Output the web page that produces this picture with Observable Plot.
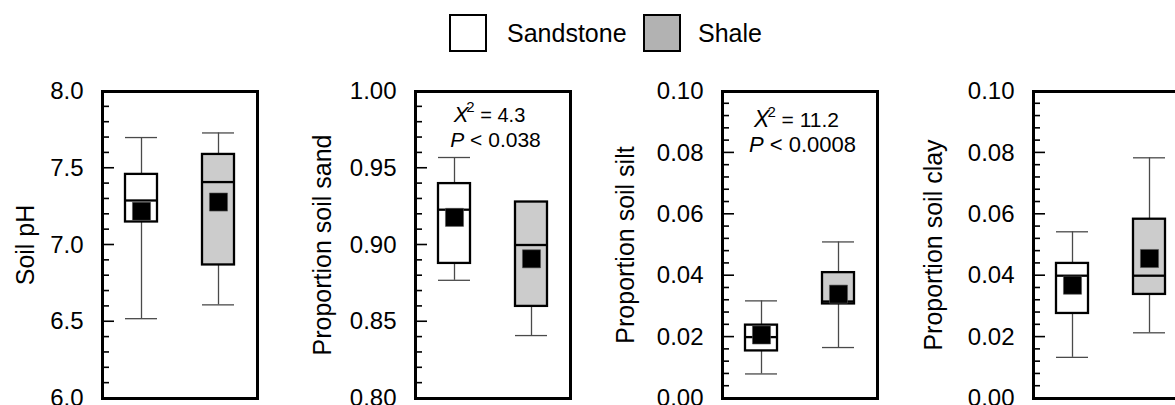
<!DOCTYPE html>
<html>
<head>
<meta charset="utf-8">
<script src="https://cdn.jsdelivr.net/npm/d3@7"></script>
<script src="https://cdn.jsdelivr.net/npm/@observablehq/plot@0.6"></script>
<style>
  html, body { margin: 0; padding: 0; background: #fff; }
  #wrap { position: relative; width: 1175px; height: 405px; overflow: hidden; font-family: "Liberation Sans", Arial, Helvetica, sans-serif; color: #000; }
  .panel { position: absolute; top: 75px; }
  .lg-box { position: absolute; top: 14px; width: 38px; height: 38px; box-sizing: border-box; border: 2.5px solid #000; }
  .lg-text { position: absolute; top: 18px; font-size: 25px; line-height: 30px; }
</style>
</head>
<body>
<div id="wrap"></div>
<script>
const FONT = '"Liberation Sans", Arial, Helvetica, sans-serif';

// ---- Data ----
const groups = ["Sandstone", "Shale"];
const boxFill = ["#ffffff", "#cccccc"];
const legendFill = ["#ffffff", "#b2b2b2"];

// Soil pH
const phLo   = [6.52, 6.61];
const phQ1   = [7.15, 6.87];
const phMed  = [7.29, 7.41];
const phQ3   = [7.46, 7.59];
const phHi   = [7.70, 7.73];
const phMean = [7.22, 7.28];

// Proportion soil sand
const sandLo   = [0.877, 0.841];
const sandQ1   = [0.888, 0.860];
const sandMed  = [0.923, 0.900];
const sandQ3   = [0.940, 0.928];
const sandHi   = [0.957, 0.928];
const sandMean = [0.918, 0.891];

// Proportion soil silt
const siltLo   = [0.0080, 0.0166];
const siltQ1   = [0.0155, 0.0308];
const siltMed  = [0.0200, 0.0316];
const siltQ3   = [0.0239, 0.0410];
const siltHi   = [0.0318, 0.0510];
const siltMean = [0.0207, 0.0340];

// Proportion soil clay
const clayLo   = [0.0134, 0.0214];
const clayQ1   = [0.0277, 0.0339];
const clayMed  = [0.0400, 0.0400];
const clayQ3   = [0.0440, 0.0584];
const clayHi   = [0.0543, 0.0784];
const clayMean = [0.0369, 0.0456];

// Tick labels
const phTicks   = [6.0, 6.5, 7.0, 7.5, 8.0];
const sandTicks = [0.80, 0.85, 0.90, 0.95, 1.00];
const siltTicks = [0.00, 0.02, 0.04, 0.06, 0.08, 0.10];
const clayTicks = [0.00, 0.02, 0.04, 0.06, 0.08, 0.10];
const phMinor   = d3.range(0, 21).map(i => 6 + i * 0.1);
const sandMinor = d3.range(0, 21).map(i => 0.8 + i * 0.01);
const siltMinor = d3.range(0, 26).map(i => i * 0.004);
const clayMinor = d3.range(0, 26).map(i => i * 0.004);

const panels = [
  {label: "Soil pH", lo: phLo, q1: phQ1, med: phMed, q3: phQ3, hi: phHi, mean: phMean,
   domain: [6, 8], major: phTicks, minor: phMinor, fmt: d3.format(".1f"), labelOffset: 77, left: 2, note: null},
  {label: "Proportion soil sand", lo: sandLo, q1: sandQ1, med: sandMed, q3: sandQ3, hi: sandHi, mean: sandMean,
   domain: [0.8, 1.0], major: sandTicks, minor: sandMinor, fmt: d3.format(".2f"), labelOffset: 93, left: 315,
   note: {chi: "4.3", p: "0.038", y1: 47, y2: 72, size: 21}},
  {label: "Proportion soil silt", lo: siltLo, q1: siltQ1, med: siltMed, q3: siltQ3, hi: siltHi, mean: siltMean,
   domain: [0, 0.1], major: siltTicks, minor: siltMinor, fmt: d3.format(".2f"), labelOffset: 97, left: 622,
   note: {chi: "11.2", p: "0.0008", y1: 52, y2: 77, size: 22}},
  {label: "Proportion soil clay", lo: clayLo, q1: clayQ1, med: clayMed, q3: clayQ3, hi: clayHi, mean: clayMean,
   domain: [0, 0.1], major: clayTicks, minor: clayMinor, fmt: d3.format(".2f"), labelOffset: 100, left: 933, note: null}
];

const wrap = document.getElementById("wrap");

// ---- Legend ----
const legendX = [449, 643];
const legendTextX = [507, 698];
groups.forEach((g, i) => {
  const b = document.createElement("div");
  b.className = "lg-box";
  b.style.left = legendX[i] + "px";
  b.style.background = legendFill[i];
  wrap.appendChild(b);
  const t = document.createElement("div");
  t.className = "lg-text";
  t.style.left = legendTextX[i] + "px";
  t.textContent = g;
  wrap.appendChild(t);
});

// ---- Panels ----
const ML = 100, FW = 155, MR = 10;
const MAJOR = 12, MINOR = 7;
panels.forEach(p => {
  const data = groups.map((g, i) => ({group: g, lo: p.lo[i], q1: p.q1[i], med: p.med[i], q3: p.q3[i], hi: p.hi[i], mean: p.mean[i]}));
  const minor = p.minor.filter(v => !p.major.some(m => Math.abs(m - v) < 1e-9));
  const whisk = {stroke: "#4a4a4a", strokeWidth: 1.3};
  const chart = Plot.plot({
    width: ML + FW + MR, height: 330,
    marginLeft: ML, marginRight: MR, marginTop: 16, marginBottom: 7,
    style: {fontFamily: FONT, color: "black", background: "transparent", overflow: "visible"},
    x: {type: "band", domain: groups, paddingInner: 0.587, paddingOuter: 0.2935, axis: null},
    y: {domain: p.domain, axis: null},
    color: {domain: groups, range: boxFill},
    marks: [
      Plot.ruleX(data, {x: "group", y1: "lo", y2: "hi", ...whisk}),
      Plot.tickY(data, {x: "group", y: "lo", ...whisk}),
      Plot.tickY(data, {x: "group", y: "hi", ...whisk}),
      Plot.barY(data, {x: "group", y1: "q1", y2: "q3", fill: "group", stroke: "black", strokeWidth: 2.3}),
      Plot.tickY(data, {x: "group", y: "med", stroke: "black", strokeWidth: 2.3}),
      Plot.dot(data, {x: "group", y: "mean", symbol: "square", r: 10.2, fill: "black", stroke: "#555", strokeWidth: 0.6}),
      // tick labels
      Plot.axisY(p.major, {anchor: "left", tickSize: 0, tickPadding: 19, tickFormat: p.fmt, fontSize: 24, label: null}),
      Plot.frame({stroke: "black", strokeWidth: 3}),
      Plot.text([p.label], {frameAnchor: "left", rotate: -90, dx: -p.labelOffset, textAnchor: "middle", lineAnchor: "middle", fontSize: 25})
    ]
  });
  chart.classList.add("panel");
  chart.style.left = p.left + "px";
  wrap.appendChild(chart);

  const svg = d3.select(chart);
  // inward tick marks as thin filled rectangles, positioned through the plot's own y scale
  const yScale = chart.scale("y");
  const tg = svg.append("g").attr("fill", "#000");
  const addTicks = (vals, len) => vals.forEach(v => {
    const yy = +yScale.apply(v);
    if (!isFinite(yy)) return;
    tg.append("rect").attr("x", ML).attr("y", yy - 0.8).attr("width", len).attr("height", 1.6)
      .attr("fill", "#000").style("fill", "#000");
  });
  addTicks(minor, MINOR);
  addTicks(p.major, MAJOR);

  if (p.note) {
    const cx = ML + FW / 2;
    const t1 = svg.append("text").attr("x", cx - 3).attr("y", p.note.y1).attr("text-anchor", "middle")
      .attr("font-family", FONT).attr("fill", "black");
    t1.append("tspan").attr("font-style", "italic").attr("font-size", p.note.size + 1).text("X");
    t1.append("tspan").attr("font-size", 15).attr("dy", -10).attr("dx", -2).text("2");
    t1.append("tspan").attr("font-size", p.note.size - 1).attr("dy", 10).text(" = " + p.note.chi);
    const t2 = svg.append("text").attr("x", cx + 3).attr("y", p.note.y2).attr("text-anchor", "middle")
      .attr("font-family", FONT).attr("fill", "black").attr("font-size", p.note.size);
    t2.append("tspan").attr("font-style", "italic").text("P");
    t2.append("tspan").text(" < " + p.note.p);
  }
});
</script>
</body>
</html>
